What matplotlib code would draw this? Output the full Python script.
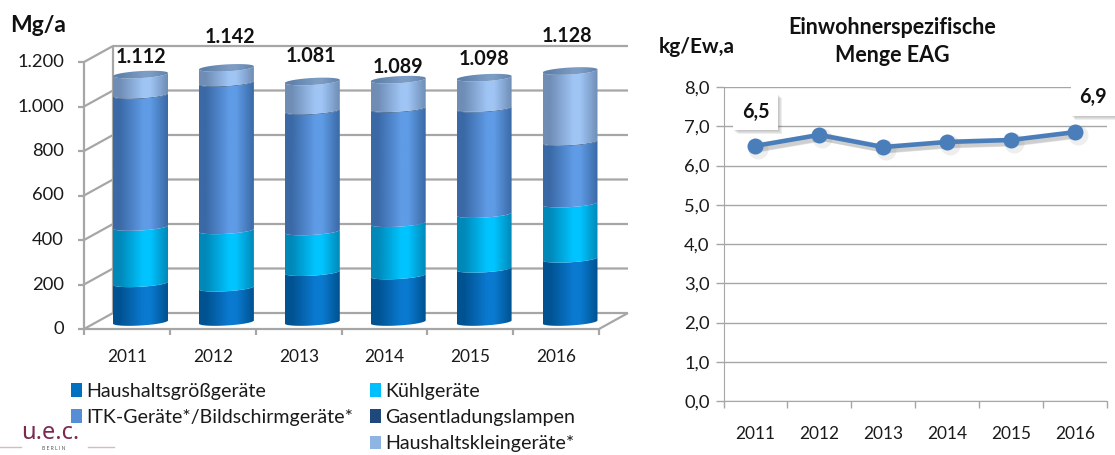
import numpy as np
import matplotlib
matplotlib.use("Agg")
import matplotlib.pyplot as plt
import matplotlib.patheffects as pe
from matplotlib.colors import LinearSegmentedColormap
from matplotlib.patches import Patch
from matplotlib.path import Path

plt.rcParams['font.family'] = ['Lato', 'DejaVu Sans']

# ---- data ----
years = ['2011', '2012', '2013', '2014', '2015', '2016']
grossgeraete = [174, 154, 224, 209, 239, 284]
kuehlgeraete = [253, 258, 183, 235, 246, 248]
itk_geraete = [592, 662, 541, 514, 474, 276]
gasentladung = [3, 3, 3, 3, 3, 3]
kleingeraete = [90, 65, 130, 128, 136, 317]
totals_label = ['1.112', '1.142', '1.081', '1.089', '1.098', '1.128']
y_ticks_left = [0, 200, 400, 600, 800, 1000, 1200]
y_labels_left = ['0', '200', '400', '600', '800', '1.000', '1.200']

spez_menge = [6.5, 6.78, 6.47, 6.6, 6.65, 6.85]
y_ticks_right = [0, 1, 2, 3, 4, 5, 6, 7, 8]
y_labels_right = ['0,0', '1,0', '2,0', '3,0', '4,0', '5,0', '6,0', '7,0', '8,0']

series_names = ['Haushaltsgrößgeräte', 'Kühlgeräte', 'ITK-Geräte*/Bildschirmgeräte*',
                'Gasentladungslampen', 'Haushaltskleingeräte*']
series_colors = ['#0070C0', '#00BFFF', '#558ED5', '#1F497D', '#8EB4E3']

W, H = 1115, 455
fig = plt.figure(figsize=(W / 100, H / 100), dpi=100)
TEXT = '#1a1a1a'
GRID = '#a6a6a6'


def fx(px):
    return px / W


def fy(py):
    return 1 - py / H


# ---- left chart: axes covers the left part, scale fixed to the picture ----
ax = fig.add_axes([0, 0, 640 / W, 1])
ax.set_axis_off()
PX_X = 85.9      # pixels per category
PX_Y = 267 / 1200  # pixels per Mg/a
X0, Y0 = 140.5, 329
ax.set_xlim((0 - X0) / PX_X, (640 - X0) / PX_X)
ax.set_ylim((Y0 - H) / PX_Y, (Y0 - 0) / PX_Y)
dx = lambda p: p / PX_X        # pixel length to data, x
dy = lambda p: p / PX_Y        # pixel length to data, y
xfront = (84 - X0) / PX_X
xfront_r = (599 - X0) / PX_X
wall_dx, wall_dy = dx(29), dy(16)

# walls and gridlines
lk = dict(color=GRID, lw=1.6, solid_capstyle='butt', zorder=1)
for v in y_ticks_left:
    ax.plot([xfront, xfront + wall_dx, xfront + wall_dx + (xfront_r - xfront)],
            [v, v + wall_dy, v + wall_dy], **lk)
    ax.plot([xfront - dx(6), xfront], [v, v], **lk)
    ax.text(xfront - dx(20), v, y_labels_left[y_ticks_left.index(v)], ha='right', va='center',
            fontsize=13.2, color=TEXT)
ax.plot([xfront, xfront], [0, 1200], **lk)
ax.plot([xfront + wall_dx] * 2, [wall_dy, 1200 + wall_dy], **lk)
ax.plot([xfront, xfront_r, xfront_r + wall_dx], [0, 0, wall_dy], **lk)
for i in range(7):
    xt = xfront + i * (xfront_r - xfront) / 6
    ax.plot([xt, xt], [0, -dy(6)], **lk)
for i, y in enumerate(years):
    ax.text(i - dx(13.5), -dy(28), y, ha='center', va='center', fontsize=12.4, color=TEXT)

# cylinders
BAR_W = 0.32
LOW_B = dy(3.5)
TILT = dy(1.6)
BASE = dy(7)


def ramp(dark, mid, name):
    return LinearSegmentedColormap.from_list(
        name, [(0, dark), (0.12, dark), (0.55, mid), (0.68, mid), (1, dark)])


cmaps = [
    ramp('#005291', '#0a7ad0', 'a'),
    ramp('#0088B8', '#00C4FF', 'b'),
    ramp('#3A69A6', '#5F9BE6', 'c'),
    ramp('#1F497D', '#1F497D', 'd'),
    ramp('#6F8DB5', '#9FC5F5', 'e'),
]
cmap_top = ramp('#5F82AC', '#7C9CC4', 't')
grad = np.linspace(0, 1, 128).reshape(1, -1)
theta = np.linspace(np.pi, 2 * np.pi, 40)


def arc(cx, v):
    xs = cx + BAR_W * np.cos(theta)
    ys = v + LOW_B * np.sin(theta) + TILT * np.cos(theta)
    return xs, ys


stack = [grossgeraete, kuehlgeraete, itk_geraete, gasentladung, kleingeraete]
for i in range(len(years)):
    bottom = 0
    for k, vals in enumerate(stack):
        v0, v1 = BASE + bottom, BASE + bottom + vals[i]
        x_lo, y_lo = arc(i, v0)
        x_hi, y_hi = arc(i, v1)
        px = np.r_[x_lo, x_hi[::-1], x_lo[0]]
        py = np.r_[y_lo, y_hi[::-1], y_lo[0]]
        im = ax.imshow(grad, extent=[i - BAR_W, i + BAR_W, v0 - 40, v1 + 40], cmap=cmaps[k],
                       aspect='auto', zorder=3 + k * 0.01, interpolation='bilinear')
        im.set_clip_path(Path(np.c_[px, py]), transform=ax.transData)
        bottom += vals[i]
    # top face
    tt = np.linspace(0, 2 * np.pi, 80)
    vt = BASE + bottom
    ex = i + BAR_W * np.cos(tt)
    ey = vt + LOW_B * np.sin(tt) + TILT * np.cos(tt)
    im = ax.imshow(grad, extent=[i - BAR_W, i + BAR_W, vt - 40, vt + 40], cmap=cmap_top,
                   aspect='auto', zorder=4, interpolation='bilinear')
    im.set_clip_path(Path(np.c_[ex, ey]), transform=ax.transData)

ax.set_xlim((0 - X0) / PX_X, (640 - X0) / PX_X)
ax.set_ylim((Y0 - H) / PX_Y, (Y0 - 0) / PX_Y)

# total labels (pixel offset above each cylinder top)
label_dx = [0, 4, -1, 0, 0, -3]
label_up = [18, 31, 25, 13, 19, 35]
tops = [sum(s[i] for s in stack) for i in range(len(years))]
for i, t in enumerate(totals_label):
    ax.annotate(t, (i, BASE + tops[i]), xytext=(label_dx[i] * 0.72, label_up[i] * 0.72),
                textcoords='offset points', ha='center', va='center', fontsize=14.2,
                fontweight='bold', color='#111111', zorder=6)

fig.text(fx(10), fy(25), 'Mg/a', fontsize=16.5, fontweight='bold', ha='left', va='center',
         color='#111111')

# legends
hs = [Patch(facecolor=c, edgecolor='none') for c in series_colors]
lk = dict(frameon=False, handlelength=0.55, handleheight=0.7, handletextpad=0.22,
          labelspacing=0.47, fontsize=14.1, labelcolor=TEXT, borderpad=0, borderaxespad=0,
          loc='upper left')
leg1 = fig.legend([hs[0], hs[2]], [series_names[0], series_names[2]],
                  bbox_to_anchor=(fx(71), fy(383)), **lk)
leg2 = fig.legend([hs[1], hs[3], hs[4]], [series_names[1], series_names[3], series_names[4]],
                  bbox_to_anchor=(fx(370), fy(383)), **lk)

# logo
fig.text(fx(21), fy(433), 'u.e.c.', fontsize=17, color='#7A2A4E', ha='left', va='center',
         family='Noto Sans')
fig.text(fx(54), fy(449), 'B E R L I N', fontsize=3.6, color='#555555', ha='center', va='center')
fig.add_artist(plt.Line2D([fx(0), fx(21)], [fy(447), fy(447)], color='#d9b9c6', lw=1))
fig.add_artist(plt.Line2D([fx(88), fx(114)], [fy(447), fy(447)], color='#d9b9c6', lw=1))

# ---- right chart ----
ar = fig.add_axes([fx(723.5), fy(401), (1107 - 723.5) / W, (401 - 87) / H])
xs = np.arange(len(years))
ar.set_xlim(-0.5, 5.5)
ar.set_ylim(0, 8)
ar.set_yticks(y_ticks_right, y_labels_right)
ar.set_xticks(np.arange(-0.5, 6, 1), [''] * 7)
ar.set_xticks(xs, years, minor=True)
ar.tick_params(axis='x', which='major', length=5, width=1, color=GRID)
ar.tick_params(axis='x', which='minor', length=0, pad=18, labelsize=12.4, labelcolor=TEXT)
ar.tick_params(axis='y', length=6, width=1, color=GRID, pad=4, labelsize=13.2, labelcolor=TEXT)
ar.grid(axis='y', color=GRID, lw=1)
ar.set_axisbelow(True)
for s in ['top', 'right']:
    ar.spines[s].set_visible(False)
for s in ['left', 'bottom']:
    ar.spines[s].set_color(GRID)

soft = [pe.SimpleLineShadow(offset=(o, -o), shadow_color='#777777', alpha=0.10, linewidth=3.3 + 1.5 * (3 - o))
        for o in (3, 2.4, 1.8, 1.2)]
ar.plot(xs, spez_menge, color='#4A7EBB', lw=3.3, clip_on=False, zorder=3,
        path_effects=soft + [pe.Normal()])
ar.plot(xs, spez_menge, ls='none', marker='o', ms=16 * 0.72 * 1.25, color='#777777', alpha=0.12,
        mew=0, transform=ar.transData + matplotlib.transforms.ScaledTranslation(2 / 72, -2 / 72, fig.dpi_scale_trans),
        clip_on=False, zorder=3)
ar.plot(xs, spez_menge, ls='none', marker='o', ms=16 * 0.72, color='#4A7EBB', mew=0, clip_on=False, zorder=4)


def boxed(txt, x, y, off):
    t = ar.annotate(txt, (x, y), xytext=off, textcoords='offset points', ha='center', va='center',
                    fontsize=14.2, fontweight='bold', color='#111111', zorder=5,
                    bbox=dict(boxstyle='square,pad=0.42', fc='white', ec='none'))
    t.get_bbox_patch().set_path_effects(
        [pe.SimplePatchShadow(offset=(o, -o), shadow_rgbFace='#777777', alpha=0.12)
         for o in (3, 2.2, 1.5, 0.8)] + [pe.Normal()])


boxed('6,5', 0, spez_menge[0], (0, 24.5))
boxed('6,9', 5, spez_menge[5], (13, 25))

fig.text(fx(892), fy(27), 'Einwohnerspezifische', fontsize=15.5, fontweight='bold', ha='center',
         va='center', color='#111111')
fig.text(fx(892), fy(55), 'Menge EAG', fontsize=15.5, fontweight='bold', ha='center', va='center',
         color='#111111')
fig.text(fx(659), fy(47), 'kg/Ew,a', fontsize=15, fontweight='bold', ha='left', va='center',
         color='#111111')

fig.savefig('out.png', dpi=100)
